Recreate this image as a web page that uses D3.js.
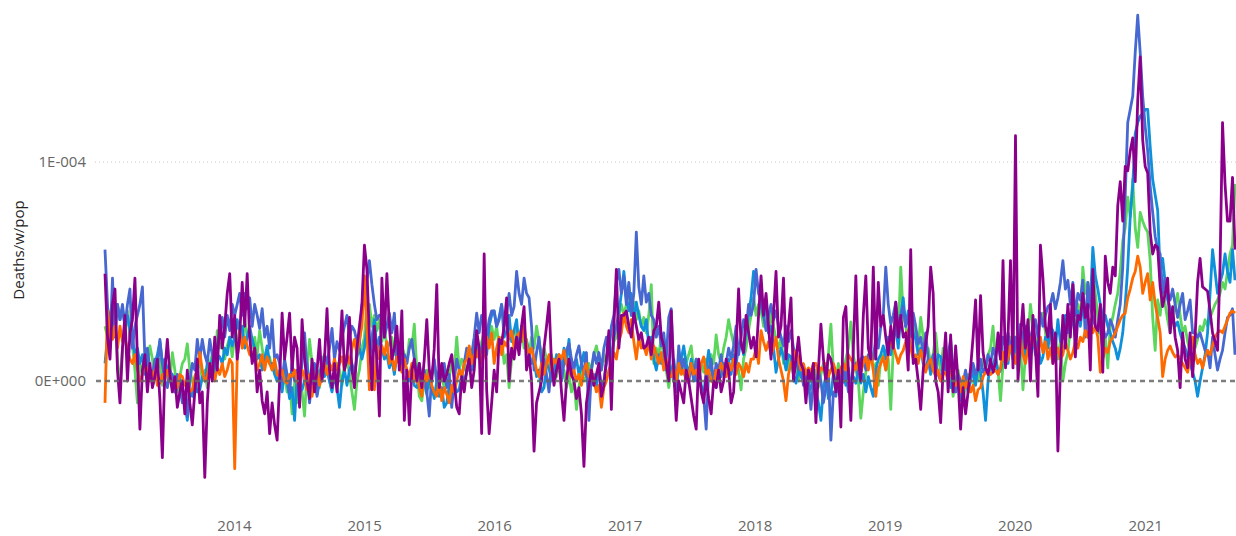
<!DOCTYPE html>
<html>
<head>
<meta charset="utf-8">
<title>Deaths/w/pop</title>
<script src="https://cdn.jsdelivr.net/npm/d3@7"></script>
<style>
  body { margin: 0; background: #fff; }
  svg { display: block; font-family: "Segoe UI", "Open Sans", sans-serif; }
</style>
</head>
<body>
<script>
// weekly values in units of 1E-006 deaths per population, first week 2013-01-04
// one line = 13 weeks, four lines = one year
var startDate = new Date(2013, 0, 4);

var blue = [
  60,35,15,47,20,35,28,35,25,35,42,15,25,
  30,35,43,10,15,5,2,10,5,19,8,0,-3,
  5,2,-5,3,-2,-10,-5,-16,0,8,5,19,10,
  19,12,8,19,12,6,15,22,29,20,30,23,35,
  30,35,40,30,40,33,38,25,35,30,24,33,20,
  25,15,28,10,12,8,0,10,3,-5,8,0,5,
  -10,10,22,5,-10,0,8,-7,0,5,12,8,15,
  24,10,18,14,20,25,30,20,25,23,18,16,35,
  35,46,55,44,35,28,30,29,20,25,31,22,31,
  10,15,5,12,8,15,19,10,2,8,0,5,-5,
  -16,3,10,0,5,2,8,-3,3,-12,0,10,5,
  2,8,15,5,12,20,31,22,30,25,20,28,32,
  32,25,28,35,25,31,40,30,34,50,40,35,47,
  40,38,25,5,13,20,8,10,3,-5,8,2,5,
  12,0,8,14,17,10,5,12,16,8,3,13,-18,
  5,13,8,13,5,15,20,12,25,30,45,51,40,
  48,35,45,30,40,68,43,35,48,36,40,30,28,
  20,25,16,22,10,29,33,0,-5,16,5,10,3,
  -1,8,0,10,3,-3,-7,-22,5,10,-1,8,5,
  12,3,8,15,10,16,25,12,20,28,23,35,30,
  35,51,40,37,30,23,30,35,28,32,25,20,16,
  25,18,23,15,11,5,8,-2,5,0,-13,0,-4,
  5,0,-10,-3,5,-27,-5,-7,3,-2,0,5,-5,
  -3,5,8,3,10,11,5,12,10,10,20,15,25,
  30,52,35,26,30,36,25,28,34,25,30,20,31,
  25,17,20,12,22,10,5,12,8,3,0,8,5,
  12,19,5,-5,3,0,-1,5,-3,2,8,3,5,
  10,4,6,12,8,15,11,18,10,20,16,22,15,
  15,20,12,26,18,25,15,19,25,28,20,31,25,
  30,34,35,40,33,38,45,55,42,46,35,45,30,
  40,37,46,20,45,34,29,25,22,30,25,20,22,
  28,25,20,28,35,52,85,118,124,130,150,167,150,
  130,116,105,89,77,66,60,58,40,47,40,37,42,
  35,29,35,40,28,32,37,22,22,20,22,18,14,
  14,6,20,12,5,10,14,22,29,30,33,12
];

var lightBlue = [
  8,20,30,36,30,35,28,33,25,30,23,20,12,
  15,8,12,3,10,5,2,8,12,18,8,10,5,
  0,3,-5,-3,2,-8,-10,-18,-5,-7,0,-5,-4,
  2,0,8,5,10,3,12,11,8,15,12,20,16,
  20,28,22,25,15,20,25,19,15,10,12,5,10,
  16,8,8,3,0,3,-5,5,0,-8,-3,-18,2,
  -5,-4,0,8,-2,5,0,-6,3,8,2,5,0,
  -5,3,-3,-12,0,5,-2,5,8,3,11,15,10,
  15,25,8,20,28,14,20,15,10,12,6,10,3,
  12,8,5,10,4,0,6,-2,-3,2,-4,0,-6,
  2,-3,-8,0,-7,-3,-12,-10,-2,-7,0,-5,-4,
  3,0,4,8,5,12,19,10,15,20,12,25,30,
  32,25,29,35,20,23,30,18,23,28,15,25,22,
  18,13,8,10,2,5,-5,-3,8,6,0,5,12,
  10,5,15,8,19,5,8,10,3,8,13,2,5,
  -2,3,-3,5,-2,0,8,16,10,20,25,31,40,
  50,38,32,40,28,36,30,25,23,28,16,20,10,
  5,12,8,13,5,8,2,10,0,5,10,16,8,
  3,10,5,0,8,-2,-7,5,14,5,0,-3,5,
  2,8,5,10,3,12,8,15,18,12,23,30,38,
  50,45,43,35,29,35,22,25,15,4,10,15,11,
  5,12,11,3,-1,5,2,0,5,-5,-3,2,-4,
  -10,-18,-3,2,-8,-6,3,0,-5,5,4,-2,6,
  -3,2,-1,5,-1,3,-5,2,-3,-7,5,10,12,
  16,10,20,12,19,25,15,30,38,25,32,29,22,
  19,12,15,8,6,10,3,8,5,12,11,5,8,
  0,-3,5,-5,2,-9,-3,3,-5,0,5,-2,8,
  4,-5,-18,0,8,6,12,3,5,10,14,8,18,
  10,18,8,13,20,10,25,15,20,12,18,8,11,
  20,15,25,23,15,28,18,20,30,22,25,28,20,
  32,25,35,28,40,35,61,48,42,35,29,30,25,
  22,18,15,10,15,22,35,52,75,89,113,118,121,
  122,124,124,107,92,85,78,49,56,45,37,33,29,
  25,27,22,18,15,11,8,4,0,-7,0,6,12,
  22,40,60,50,40,45,49,58,50,45,60,46
];

var green = [
  25,20,16,25,30,10,-3,15,22,32,20,16,5,
  -10,8,4,12,8,16,10,2,5,10,-2,8,5,
  0,13,5,-5,2,8,10,17,5,0,-5,5,10,
  0,5,-3,8,12,5,23,15,18,10,16,20,11,
  20,15,25,18,28,20,23,15,20,12,23,15,8,
  12,11,5,8,0,5,-3,3,-5,0,-15,-1,-10,
  0,-5,-16,5,19,8,0,5,-3,11,3,8,0,
  -4,3,8,5,-2,8,11,3,-5,-13,0,5,15,
  20,35,35,25,30,23,28,18,25,15,17,20,12,
  18,10,16,12,8,19,15,26,5,-7,-9,0,5,
  -3,3,8,-1,5,2,-3,5,2,8,5,20,5,
  10,8,3,12,10,19,15,11,18,22,14,20,25,
  19,25,15,20,8,12,-3,10,15,23,18,25,15,
  19,12,20,15,25,18,12,15,10,5,12,5,2,
  8,0,5,-3,3,-5,0,-13,-3,5,0,2,8,
  5,12,16,10,5,12,8,15,10,18,20,30,35,
  30,35,43,30,36,28,32,25,29,22,30,44,8,
  15,12,20,10,5,-3,5,8,-3,5,10,3,8,
  12,16,5,10,0,8,4,10,5,12,8,21,12,
  8,15,20,28,22,17,10,5,-4,10,15,23,30,
  38,30,35,32,25,30,22,31,25,19,15,20,8,
  15,5,11,3,8,0,5,2,-5,3,0,-1,5,
  -3,3,8,0,12,26,5,0,8,-2,5,10,15,
  27,12,5,0,-17,-5,4,8,14,5,8,-2,10,
  12,5,10,-13,15,32,20,52,30,25,18,30,26,
  20,15,29,20,13,15,8,12,22,10,5,15,11,
  3,5,-7,0,5,-3,-9,-2,3,-5,-3,5,0,
  8,10,5,12,15,25,10,5,-9,8,16,10,20,
  10,20,5,15,-4,12,20,35,25,15,20,28,31,
  22,15,25,13,20,10,18,0,8,13,25,30,20,
  35,28,52,40,45,38,51,40,30,22,15,20,6,
  25,29,35,40,50,64,70,84,75,92,70,61,77,
  73,70,68,55,29,14,37,30,42,35,28,22,30,
  35,40,30,22,25,18,14,20,15,19,25,23,28,
  25,29,32,35,37,40,45,42,50,58,62,90
];

var orange = [
  -10,32,20,19,25,15,25,18,20,14,10,8,12,
  5,0,3,8,5,0,2,5,-2,-1,3,0,5,
  2,-2,0,-3,3,2,-2,0,-5,-4,2,5,13,
  5,0,2,8,5,0,6,3,8,2,5,10,8,
  -40,10,23,15,20,16,12,11,15,5,8,12,5,
  11,8,5,10,3,2,5,0,-1,3,2,5,0,
  -3,5,2,-4,3,-7,0,5,-2,2,8,3,8,
  5,10,5,8,11,5,12,8,15,19,12,19,25,
  48,23,-4,5,-4,16,10,16,12,18,8,12,5,
  11,8,4,10,5,2,8,0,2,-3,-7,3,0,
  5,-2,-5,-7,0,-9,-3,-6,-10,-2,-5,0,5,
  2,8,10,16,8,12,11,15,8,12,20,15,22,
  8,15,20,12,18,16,20,23,15,20,22,18,25,
  17,12,15,10,5,2,8,3,8,12,5,10,8,
  12,10,14,8,5,2,5,0,3,-2,5,8,2,
  5,0,-5,-2,-12,-3,0,5,8,13,10,18,22,
  31,25,22,28,18,10,20,15,16,12,18,10,16,
  12,8,13,5,10,3,2,6,0,8,3,5,0,
  2,8,3,5,0,8,11,3,5,0,-1,5,3,
  8,5,2,8,5,10,3,8,6,2,8,4,10,
  10,15,8,23,18,14,18,12,15,20,10,5,0,
  -9,3,8,10,14,10,5,8,3,6,4,8,8,
  3,6,5,8,2,5,8,4,2,6,8,5,12,
  10,8,5,10,4,8,11,5,13,5,-7,5,8,
  11,5,12,19,16,12,8,12,14,18,23,15,10,
  12,8,14,10,4,8,10,5,2,5,0,3,4,
  0,5,2,-2,0,-5,2,-3,0,-5,-2,-9,-4,
  -3,2,4,5,3,4,5,3,6,13,8,10,16,
  13,8,15,20,12,8,15,18,22,15,12,20,13,
  18,10,15,8,12,15,10,12,18,14,10,13,18,
  15,20,18,23,20,28,22,25,20,4,10,15,13,
  18,20,22,25,28,30,31,38,42,47,50,57,52,
  40,45,49,37,45,35,29,22,2,10,14,16,13,
  11,12,10,8,6,4,10,20,12,8,10,6,11,
  14,12,16,20,22,23,22,25,28,31,32,31
];

var purple = [
  49,20,10,35,42,5,-10,15,30,0,22,28,47,
  10,-22,5,12,-5,8,-3,2,10,-8,-35,5,19,
  3,-5,2,-12,-5,0,-15,5,-10,-20,-5,10,-10,
  -5,-44,-10,8,0,20,5,30,15,25,40,49,20,
  30,10,20,45,25,49,20,8,15,-5,5,-9,-15,
  -5,-24,-10,-20,-27,0,31,10,20,31,5,20,15,
  -12,28,10,0,-8,10,-5,5,19,0,10,33,5,
  -3,8,-5,10,32,5,10,29,5,-3,15,25,35,
  62,51,20,-4,25,10,-16,47,20,49,25,10,15,
  25,5,32,-18,5,-20,5,10,0,8,-3,10,28,
  5,0,15,44,-3,8,0,3,8,12,0,-12,-15,
  2,-5,5,10,-3,5,23,15,-24,58,-4,-24,-10,
  5,-5,19,17,25,38,0,15,10,20,12,25,34,
  5,12,0,-32,-10,-5,0,15,25,36,8,-2,5,
  10,-5,-18,0,10,3,0,-8,-3,-15,-39,-10,-2,
  5,-2,3,8,-7,-2,10,23,-13,25,51,15,30,
  30,32,25,20,31,25,19,22,15,16,20,12,23,
  25,36,20,16,8,0,32,5,-18,0,-5,-10,5,
  0,-8,-16,-22,10,-5,-10,2,-8,-15,0,-3,5,
  -5,0,10,5,-10,-5,15,42,17,13,30,22,15,
  20,11,30,48,30,40,25,10,30,50,20,25,47,
  10,25,38,0,10,20,8,5,-10,5,0,8,-19,
  5,26,10,0,12,10,3,-5,5,-21,29,34,5,
  -18,15,48,10,0,30,48,15,10,52,10,45,25,
  30,20,12,25,15,36,20,30,20,22,5,60,8,
  10,0,-13,5,17,25,52,40,0,-5,-19,5,22,
  -5,21,-5,16,0,-22,-3,-15,-5,6,20,37,5,
  39,13,6,3,10,4,8,22,10,55,6,20,55,
  6,112,0,20,35,15,28,0,30,15,-7,62,47,
  25,20,35,8,22,-32,5,30,15,35,20,44,11,
  30,28,40,29,35,5,51,25,23,35,4,57,45,
  40,52,48,80,91,73,98,96,105,111,91,128,148,
  110,98,95,68,58,62,61,43,34,40,47,22,34,
  20,14,-3,22,10,6,22,2,20,45,56,43,42,
  41,32,22,18,14,52,118,90,73,73,93,60
];

var yTickValues = [0, 1e-4];
var yTitle = "Deaths/w/pop";

// drawing order, bottom first
var series = [
  {name: "green", color: "#5CD65C", values: green},
  {name: "lightBlue", color: "#0E90DB", values: lightBlue},
  {name: "blue", color: "#4668D0", values: blue},
  {name: "orange", color: "#FF6A00", values: orange},
  {name: "purple", color: "#8B008B", values: purple}
];

var width = 1236, height = 536;
var unit = 1e-6;

function weekDate(i) { return d3.timeDay.offset(startDate, 7 * i); }

var svg = d3.select("body").append("svg")
    .attr("width", width)
    .attr("height", height);

svg.append("rect").attr("width", width).attr("height", height).attr("fill", "#fff");

var n = d3.max(series, function(s) { return s.values.length; });
var x = d3.scaleTime()
    .domain([startDate, weekDate(n - 1)])
    .range([105, 1235]);

var y = d3.scaleLinear()
    .domain([-5e-5, 1.7e-4])
    .range([490.5, 8.7]);

function sci(d) {
  if (d === 0) return "0E+000";
  var e = Math.floor(Math.log10(Math.abs(d)));
  var m = Math.round(d / Math.pow(10, e));
  return m + "E" + (e < 0 ? "-" : "+") + String(Math.abs(e)).padStart(3, "0");
}

// gridline at 1E-004
svg.append("line")
    .attr("x1", 95).attr("x2", width)
    .attr("y1", y(1e-4)).attr("y2", y(1e-4))
    .attr("stroke", "#c8c8c8")
    .attr("stroke-width", 1)
    .attr("stroke-dasharray", "1,3");

var yAxis = svg.append("g")
    .attr("transform", "translate(95,0)")
    .call(d3.axisLeft(y).tickValues(yTickValues).tickFormat(sci).tickSize(0).tickPadding(9));
yAxis.select(".domain").remove();
yAxis.selectAll("text")
    .attr("fill", "#666")
    .style("font-size", "15px")
    .style("font-family", "'Segoe UI', 'Open Sans', sans-serif");

var xAxis = svg.append("g")
    .attr("transform", "translate(0,512)")
    .call(d3.axisBottom(x).ticks(d3.timeYear.every(1)).tickFormat(d3.timeFormat("%Y")).tickSize(0).tickPadding(8));
xAxis.select(".domain").remove();
xAxis.selectAll("text")
    .attr("fill", "#666")
    .style("font-size", "15px")
    .style("font-family", "'Segoe UI', 'Open Sans', sans-serif");

svg.append("text")
    .attr("transform", "translate(24,250) rotate(-90)")
    .attr("text-anchor", "middle")
    .attr("fill", "#252423")
    .style("font-size", "15px")
    .text(yTitle);

var line = d3.line()
    .x(function(d, i) { return x(weekDate(i)); })
    .y(function(d) { return y(d * unit); });

svg.append("g").selectAll("path")
    .data(series)
    .enter().append("path")
    .attr("class", function(s) { return "series " + s.name; })
    .attr("d", function(s) { return line(s.values); })
    .attr("fill", "none")
    .attr("stroke", function(s) { return s.color; })
    .attr("stroke-width", 2.8)
    .attr("stroke-linejoin", "round");

// zero line
svg.append("line")
    .attr("x1", 96).attr("x2", width)
    .attr("y1", y(0)).attr("y2", y(0))
    .attr("stroke", "#666")
    .attr("stroke-opacity", 0.85)
    .attr("stroke-width", 2.5)
    .attr("stroke-dasharray", "5,4");
</script>
</body>
</html>
